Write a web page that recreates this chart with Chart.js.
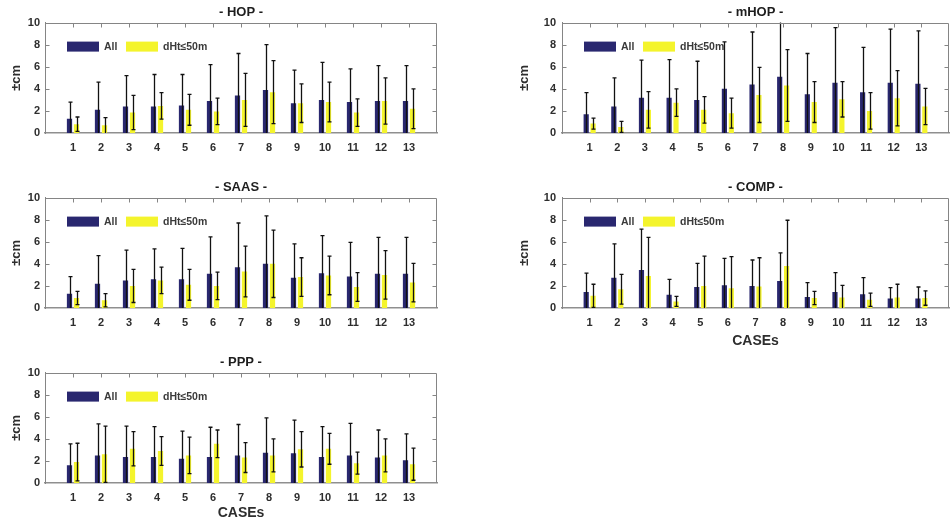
<!DOCTYPE html>
<html><head><meta charset="utf-8">
<script src="https://cdn.jsdelivr.net/npm/chart.js@4/dist/chart.umd.min.js"></script>
<style>
html,body{margin:0;padding:0;background:#fff;width:950px;height:527px;overflow:hidden;position:relative;}
canvas{position:absolute;}
</style></head><body>
<canvas id="cHOP" width="440" height="160" style="left:0;top:0"></canvas>
<canvas id="cMHOP" width="470" height="160" style="left:480px;top:0"></canvas>
<canvas id="cSAAS" width="440" height="160" style="left:0;top:175px"></canvas>
<canvas id="cCOMP" width="470" height="175" style="left:480px;top:175px"></canvas>
<canvas id="cPPP" width="440" height="177" style="left:0;top:350px"></canvas>
<script>
// ---- data ----
const cases = ['1','2','3','4','5','6','7','8','9','10','11','12','13'];
const seriesNames = ['All', 'dHt\u226450m'];
const yTicks = [0, 2, 4, 6, 8, 10];

const hopAll    = [1.3, 2.1, 2.4, 2.4, 2.5, 2.9, 3.4, 3.9, 2.7, 3.0, 2.8, 2.9, 2.9];
const hopAllErr = [1.5, 2.5, 2.8, 2.9, 2.8, 3.3, 3.8, 4.1, 3.0, 3.4, 3.0, 3.2, 3.2];
const hopDht    = [0.8, 0.7, 1.85, 2.45, 2.1, 1.95, 3.0, 3.7, 2.7, 2.8, 1.85, 2.9, 2.2];
const hopDhtErr = [0.65, 0.7, 1.55, 1.2, 1.4, 1.2, 2.4, 2.85, 1.75, 1.8, 1.25, 2.1, 1.8];

const mhopAll    = [1.7, 2.4, 3.2, 3.2, 3.0, 4.0, 4.4, 5.1, 3.5, 4.55, 3.7, 4.55, 4.45];
const mhopAllErr = [1.95, 2.6, 3.4, 3.45, 3.5, 4.25, 4.75, 5.1, 3.7, 5.0, 4.05, 4.85, 4.8];
const mhopDht    = [0.85, 0.55, 2.1, 2.75, 2.1, 1.8, 3.45, 4.3, 2.8, 3.05, 2.0, 3.15, 2.4];
const mhopDhtErr = [0.5, 0.5, 1.65, 1.25, 1.2, 1.35, 2.5, 3.25, 1.85, 1.6, 1.65, 2.5, 1.65];

const saasAll    = [1.3, 2.2, 2.5, 2.6, 2.6, 3.1, 3.7, 4.0, 2.75, 3.15, 2.85, 3.1, 3.1];
const saasAllErr = [1.55, 2.55, 2.75, 2.75, 2.8, 3.35, 4.0, 4.35, 3.05, 3.4, 3.1, 3.3, 3.3];
const saasDht    = [0.9, 0.7, 2.0, 2.5, 2.1, 2.0, 3.3, 4.0, 2.8, 2.95, 1.9, 3.0, 2.3];
const saasDhtErr = [0.6, 0.6, 1.5, 1.2, 1.4, 1.25, 2.3, 3.05, 1.75, 1.75, 1.3, 2.2, 1.75];

const compAll    = [1.45, 2.75, 3.45, 1.2, 1.9, 2.05, 2.0, 2.45, 1.0, 1.45, 1.25, 0.85, 0.85];
const compAllErr = [1.7, 3.05, 3.7, 1.4, 2.15, 2.45, 2.35, 2.55, 1.3, 1.75, 1.5, 1.0, 1.05];
const compDht    = [1.1, 1.7, 2.9, 0.6, 2.0, 1.8, 1.95, 3.8, 0.9, 0.95, 0.75, 0.95, 0.9];
const compDhtErr = [1.05, 1.35, 3.5, 0.45, 2.7, 2.85, 2.6, 4.15, 0.6, 1.1, 0.6, 1.2, 0.65];

const pppAll    = [1.6, 2.5, 2.35, 2.35, 2.2, 2.35, 2.5, 2.75, 2.7, 2.35, 2.5, 2.3, 2.05];
const pppAllErr = [1.95, 2.85, 2.8, 2.75, 2.5, 2.7, 2.8, 3.15, 3.0, 2.75, 2.9, 2.5, 2.4];
const pppDht    = [1.9, 2.6, 3.1, 2.9, 2.5, 3.55, 2.3, 2.5, 3.05, 3.1, 1.8, 2.5, 1.7];
const pppDhtErr = [1.7, 2.55, 1.55, 1.3, 1.65, 1.25, 1.35, 1.5, 1.6, 1.4, 1.0, 1.5, 1.45];

// ---- styles ----
const FONT = "'Liberation Sans', Arial, Helvetica, sans-serif";
const BLUE = '#29276f';
const YELLOW = '#f4f42c';
const TEXT = '#2e2e2e';
const BOX = '#858585';
Chart.defaults.font.family = FONT;

const boxPlugin = {
  id: 'boxPlugin',
  beforeDatasetsDraw(chart) {
    // legend (drawn inside axes)
    const {ctx, chartArea: a} = chart;
    ctx.save();
    const y0 = a.top + 19;
    const items = [
      {x: a.left + 22, color: BLUE, text: seriesNames[0]},
      {x: a.left + 81, color: YELLOW, text: seriesNames[1]}
    ];
    ctx.font = 'bold 10.5px ' + FONT;
    ctx.textBaseline = 'middle';
    items.forEach(it => {
      ctx.fillStyle = it.color;
      ctx.fillRect(it.x, y0, 32, 10);
      ctx.fillStyle = '#3a3a3a';
      ctx.fillText(it.text, it.x + 37, y0 + 5.5);
    });
    ctx.restore();
  },
  afterDatasetsDraw(chart) {
    const {ctx, chartArea: a} = chart;
    const ys = chart.scales.y;
    ctx.save();
    ctx.beginPath();
    ctx.rect(a.left, a.top, a.right - a.left, a.bottom - a.top);
    ctx.clip();
    ctx.strokeStyle = '#111';
    ctx.lineWidth = 1.3;
    chart.data.datasets.forEach((ds, i) => {
      const meta = chart.getDatasetMeta(i);
      meta.data.forEach((el, j) => {
        const v = ds.data[j].y, e = ds.errors[j];
        const x = Math.round(el.x) + 0.5;
        const yt = ys.getPixelForValue(v + e);
        const lo = v - e;
        const yb = ys.getPixelForValue(Math.max(0, lo));
        ctx.beginPath();
        ctx.moveTo(x, yb); ctx.lineTo(x, yt);
        ctx.moveTo(x - 2, yt); ctx.lineTo(x + 2, yt);
        if (lo > 0) { ctx.moveTo(x - 2, yb); ctx.lineTo(x + 2, yb); }
        ctx.stroke();
      });
    });
    ctx.restore();
  },
  afterDraw(chart) {
    const {ctx, chartArea: a} = chart;
    const xs = chart.scales.x, ys = chart.scales.y;
    ctx.save();
    ctx.strokeStyle = BOX;
    ctx.lineWidth = 1;
    ctx.beginPath();
    const t = Math.round(a.top) + 0.5, r = Math.round(a.right) - 0.5, l = Math.round(a.left) + 0.5;
    ctx.moveTo(l, t); ctx.lineTo(r, t); ctx.lineTo(r, a.bottom);
    cases.forEach((c, i) => {
      const x = Math.round(xs.getPixelForValue(i + 1)) + 0.5;
      ctx.moveTo(x, t); ctx.lineTo(x, t + 4);
    });
    yTicks.slice(1, -1).forEach(v => {
      const y = Math.round(ys.getPixelForValue(v)) + 0.5;
      ctx.moveTo(l, y); ctx.lineTo(l + 4, y);
      ctx.moveTo(r, y); ctx.lineTo(r - 4, y);
    });
    ctx.stroke();
    ctx.restore();
  }
};

const panels = [
  {id: 'cHOP',  title: '- HOP -',  all: hopAll,  allErr: hopAllErr,  dht: hopDht,  dhtErr: hopDhtErr,  yWidth: 45, yTitlePad: 9,  yTickPad: 5, padRight: 3, xHeight: 27, showX: false, xTitlePadB: 0},
  {id: 'cMHOP', title: '- mHOP -', all: mhopAll, allErr: mhopAllErr, dht: mhopDht, dhtErr: mhopDhtErr, yWidth: 82, yTitlePad: 37, yTickPad: 6, padRight: 1, xHeight: 27, showX: false, xTitlePadB: 0},
  {id: 'cSAAS', title: '- SAAS -', all: saasAll, allErr: saasAllErr, dht: saasDht, dhtErr: saasDhtErr, yWidth: 45, yTitlePad: 9,  yTickPad: 5, padRight: 3, xHeight: 27, showX: false, xTitlePadB: 0},
  {id: 'cCOMP', title: '- COMP -', all: compAll, allErr: compAllErr, dht: compDht, dhtErr: compDhtErr, yWidth: 82, yTitlePad: 37, yTickPad: 6, padRight: 1, xHeight: 42, showX: true,  xTitlePadB: 0},
  {id: 'cPPP',  title: '- PPP -',  all: pppAll,  allErr: pppAllErr,  dht: pppDht,  dhtErr: pppDhtErr,  yWidth: 45, yTitlePad: 9,  yTickPad: 5, padRight: 3, xHeight: 44, showX: true,  xTitlePadB: 5}
];

panels.forEach(p => {
  new Chart(document.getElementById(p.id), {
    type: 'bar',
    data: {
      datasets: [
        {label: seriesNames[0], data: cases.map((c, i) => ({x: i + 1, y: p.all[i]})), errors: p.allErr,
         backgroundColor: BLUE, categoryPercentage: 0.5, barPercentage: 0.75},
        {label: seriesNames[1], data: cases.map((c, i) => ({x: i + 1, y: p.dht[i]})), errors: p.dhtErr,
         backgroundColor: YELLOW, categoryPercentage: 0.5, barPercentage: 0.75}
      ]
    },
    options: {
      responsive: false, animation: false, devicePixelRatio: 1,
      layout: {padding: {left: 0, right: p.padRight, top: 0, bottom: 0}},
      plugins: {
        legend: {display: false},
        tooltip: {enabled: false},
        title: {display: true, text: p.title, fullSize: false, color: '#1e1e1e',
                font: {size: 13, weight: 'bold'}, padding: {top: 5, bottom: 2}}
      },
      scales: {
        x: {
          type: 'linear', min: 0, max: cases.length + 1, offset: false,
          grid: {display: false, drawTicks: false, offset: false},
          border: {display: true, color: '#8f8f8f', width: 1.5},
          ticks: {stepSize: 1, autoSkip: false, maxRotation: 0, padding: 8, color: TEXT,
                  font: {size: 11, weight: 'bold'},
                  callback: v => (v >= 1 && v <= cases.length) ? cases[v - 1] : ''},
          title: {display: p.showX, text: 'CASEs', color: TEXT, font: {size: 14, weight: 'bold'},
                  padding: {top: 0, bottom: p.xTitlePadB}},
          afterFit: s => { s.height = p.xHeight; s.paddingLeft = 0; s.paddingRight = 0; }
        },
        y: {
          type: 'linear', min: yTicks[0], max: yTicks[yTicks.length - 1],
          grid: {display: false, drawTicks: false},
          border: {display: true, color: BOX, width: 1},
          ticks: {stepSize: 2, padding: p.yTickPad, color: TEXT, font: {size: 11, weight: 'bold'}},
          title: {display: true, text: '\u00b1cm', color: TEXT, font: {size: 13, weight: 'bold'},
                  padding: {top: p.yTitlePad, bottom: 0}},
          afterFit: s => { s.width = p.yWidth; }
        }
      }
    },
    plugins: [boxPlugin]
  });
});
</script>
</body></html>
